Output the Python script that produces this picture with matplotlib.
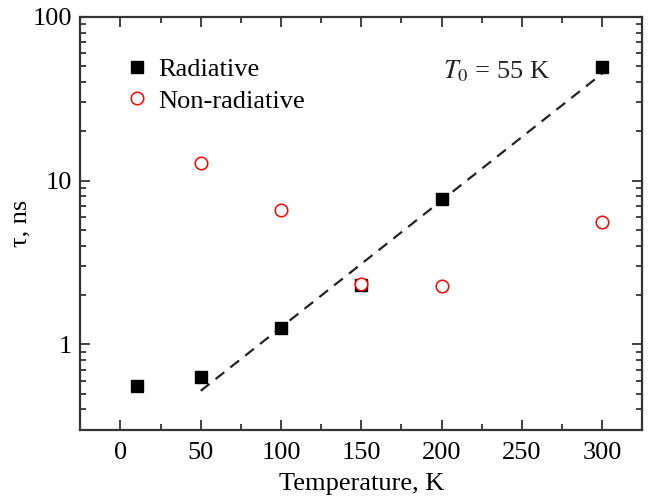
import matplotlib.pyplot as plt
import numpy as np

plt.rcParams['font.family'] = ['Liberation Serif', 'DejaVu Serif']
plt.rcParams['mathtext.fontset'] = 'stix'

# data
temp_rad = [10, 50, 100, 150, 200, 300]
tau_rad = [0.56, 0.63, 1.25, 2.3, 7.7, 49.5]
temp_nonrad = [50, 100, 150, 200, 300]
tau_nonrad = [12.8, 6.6, 2.33, 2.27, 5.6]
fit_temp = [50, 300]
fit_tau = [0.52, 45.0]

fig, ax = plt.subplots(figsize=(6.48, 4.97), dpi=100)
fig.subplots_adjust(left=0.124, right=0.991, top=0.966, bottom=0.135)

ax.plot(fit_temp, fit_tau, '--', color='#222222', lw=1.6, dashes=(5, 3.5))
ax.plot(temp_rad, tau_rad, 's', color='black', ms=9, label='Radiative')
ax.plot(temp_nonrad, tau_nonrad, 'o', mfc='white', mec='red', mew=1.1, ms=9,
        label='Non-radiative')

ax.set_yscale('log')
ax.set_xlim(-25, 325)
ax.set_ylim(0.3, 100)
ax.set_xticks([0, 50, 100, 150, 200, 250, 300])
ax.set_xticks(np.arange(25, 325, 50), minor=True)
ax.set_yticks([1, 10, 100])
ax.set_yticklabels(['1', '10', '100'])

ax.tick_params(which='both', direction='in', top=True, right=True,
               labelsize=19, color='#333333', width=1.3)
ax.tick_params(axis='x', which='major', pad=9)
ax.tick_params(axis='y', which='major', pad=6)
ax.tick_params(which='major', length=7)
ax.tick_params(which='minor', length=4)
for s in ax.spines.values():
    s.set_color('#333333')
    s.set_linewidth(1.6)

ax.set_xlabel('Temperature, K', fontsize=19, labelpad=6)
ax.set_ylabel('τ, ns', fontsize=19, labelpad=1)

ax.text(201, 42, '$T_0$ = 55 K', fontsize=19, color='#222222')

ax.legend(loc='upper left', frameon=False, fontsize=19, handletextpad=0.2,
          borderaxespad=1.25, borderpad=0.3, labelspacing=0.3, handlelength=1.2)

plt.savefig('out.png')
